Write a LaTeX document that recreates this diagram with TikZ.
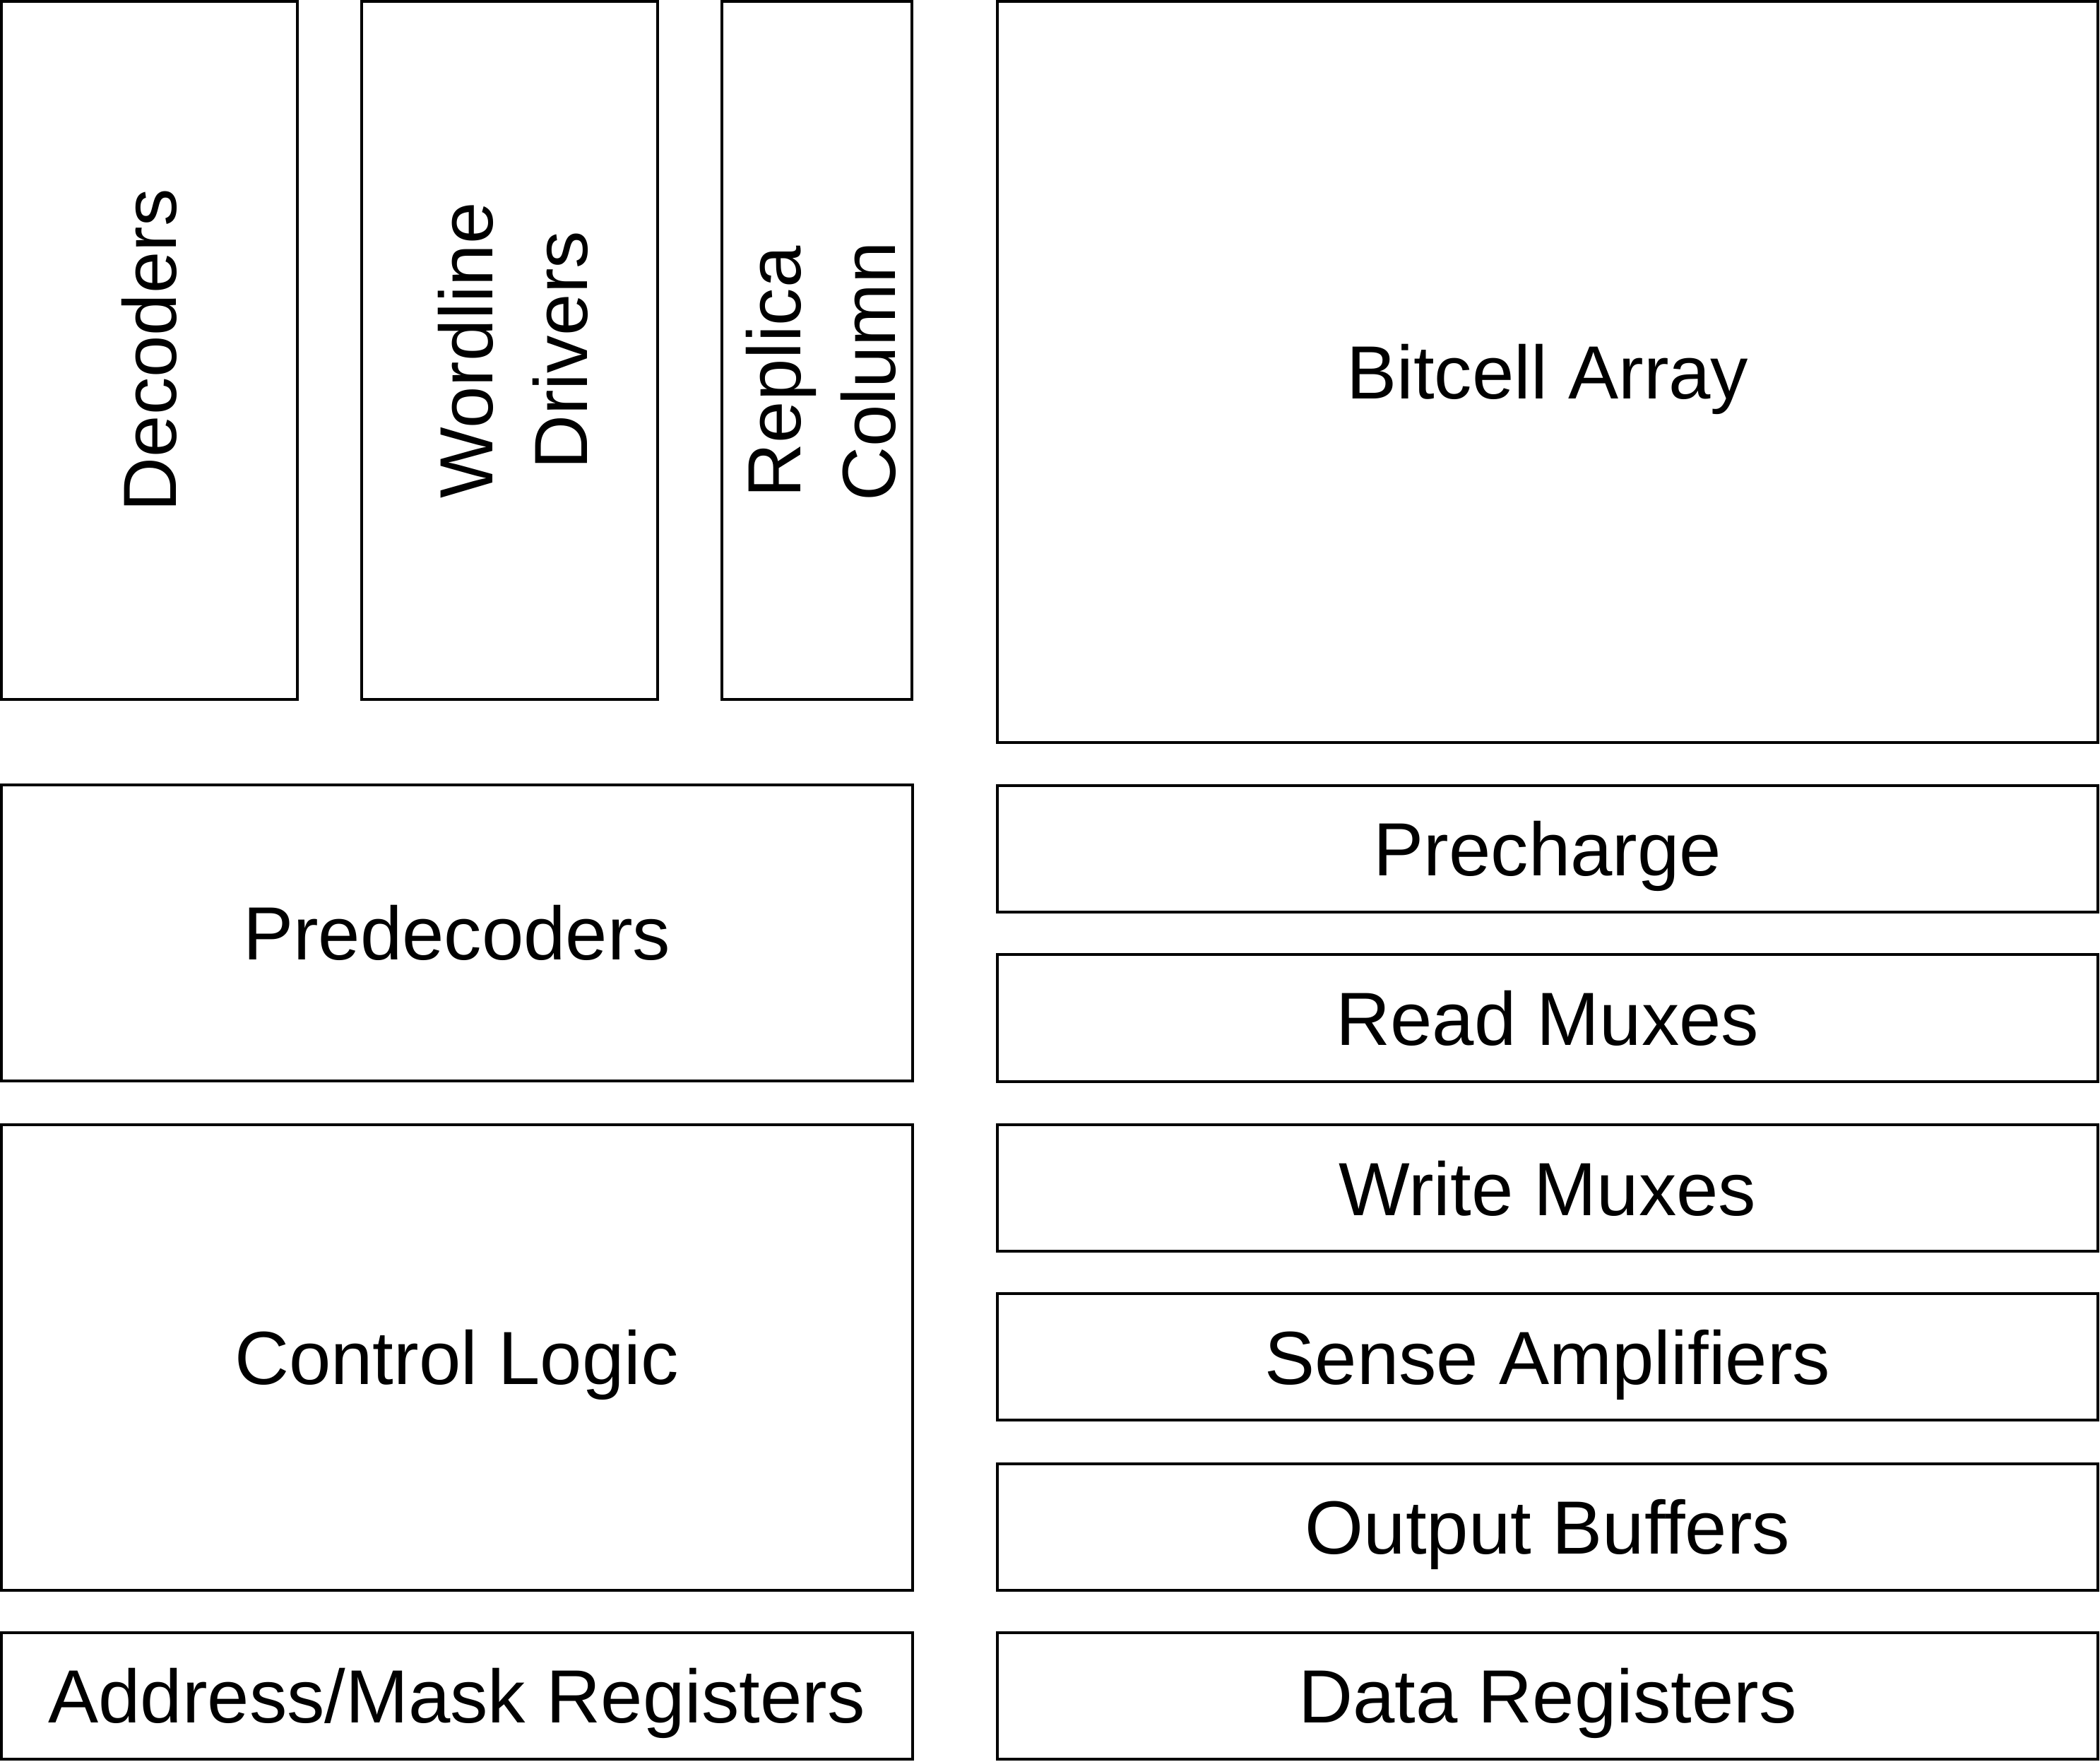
\documentclass[tikz,border=0pt]{standalone}
\usepackage{fontspec}
\setmainfont{Liberation Sans}
\usepackage{xcolor}

\begin{document}
\begin{tikzpicture}[x=0.01cm,y=-0.01cm,
	block/.style={draw,line width=0.6pt,inner sep=0pt,align=center,font=\fontsize{16}{20}\selectfont},
	flat/.style={block,text height=11.5pt,text depth=0pt},
	tall/.style={block,minimum height=5.21cm},
	strip/.style={flat,minimum width=8.21cm,minimum height=0.945cm},
	leftbox/.style={flat,minimum width=6.80cm}]
	\useasboundingbox (0,0) rectangle (1568,1315);
	
	% upper left column blocks
	\node [tall,minimum width=2.21cm] (decoders) at (111.5,261.5) {\rotatebox{90}{\raisebox{0pt}[11.5pt][0pt]{Decoders}}};
	\node [tall,minimum width=2.21cm] (wldrivers) at (380.5,261.5) {\rotatebox{90}{\raisebox{0pt}[12.9pt][20pt]{\begin{tabular}[t]{@{}c@{}}Wordline\\Drivers\end{tabular}}}};
	\node [tall,minimum width=1.42cm] (replica) at (610,261.5) {\rotatebox{90}{\raisebox{0pt}[13.2pt][20pt]{\begin{tabular}[t]{@{}c@{}}Replica\\Column\end{tabular}}\hspace{0.32cm}}};
	
	% array
	\node [flat,minimum width=8.21cm,minimum height=5.53cm] (bitcells) at (1155.5,277.5) {Bitcell Array};
	
	% left side
	\node [leftbox,minimum height=2.21cm] (predec) at (341,696.5) {Predecoders};
	\node [leftbox,minimum height=3.47cm] (control) at (341,1013.5) {Control Logic};
	\node [leftbox,minimum height=0.94cm] (addrreg) at (341,1266) {Address/Mask Registers};
	
	% column periphery
	\node [strip] (precharge) at (1155.5,633.5) {Precharge};
	\node [strip] (readmux) at (1155.5,760) {Read Muxes};
	\node [strip] (writemux) at (1155.5,887) {Write Muxes};
	\node [strip] (senseamp) at (1155.5,1013) {Sense Amplifiers};
	\node [strip] (outbuf) at (1155.5,1140) {Output Buffers};
	\node [strip] (datareg) at (1155.5,1266) {Data Registers};
	
\end{tikzpicture}
\end{document}
